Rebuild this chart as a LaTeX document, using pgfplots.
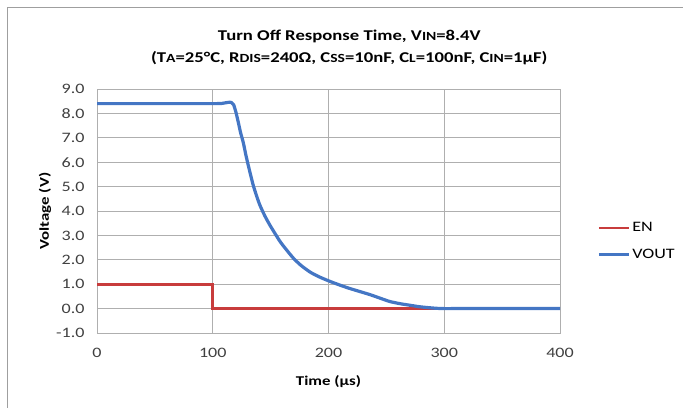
\documentclass[border=0pt]{standalone}
\usepackage{pgfplots}
\pgfplotsset{compat=1.18}
\usepackage{fontspec}
\setmainfont{Carlito}[FakeStretch=1.25]
\definecolor{enred}{RGB}{200,60,60}
\definecolor{voutblue}{RGB}{68,118,196}
\definecolor{gridgray}{RGB}{175,175,175}
\definecolor{ticktext}{RGB}{64,64,64}
\newcommand{\sm}[1]{{\fontsize{12.5}{13}\selectfont #1}}
\begin{document}
\begin{tikzpicture}[x=1bp,y=1bp]
\useasboundingbox (0bp,0bp) rectangle (683bp,408bp);
\draw[gray!75, line width=1.5bp] (7.5bp,0bp) -- (7.5bp,400.5bp) -- (683bp,400.5bp);
\begin{axis}[
  at={(97bp,75bp)}, anchor=south west,
  scale only axis, width=463bp, height=244bp,
  xmin=0, xmax=400, ymin=-1, ymax=9,
  xtick={0,100,...,400}, ytick={-1,0,...,9},
  major tick length=0pt,
  grid=major,
  grid style={gridgray, line width=0.9bp},
  axis line style={gridgray, line width=0.9bp},
  /pgf/number format/assume math mode=true,
  ticklabel style={font=\fontsize{14.5}{16}\selectfont, text=ticktext},
  yticklabel style={/pgf/number format/fixed, /pgf/number format/fixed zerofill, /pgf/number format/precision=1, xshift=-9bp},
  xticklabel style={yshift=-12bp},
  xlabel={\textbf{Time (µs)}},
  ylabel={\textbf{Voltage (V)}},
  label style={font=\fontsize{13.5}{16}\selectfont},
  xlabel style={at={(axis description cs:0.5,-0.2)}, anchor=center},
  ylabel style={at={(axis description cs:-0.112,0.5)}, anchor=center},
  title={\textbf{Turn Off Response Time, V\sm{IN}=8.4V}\\\textbf{(T\sm{A}=25°C, R\sm{DIS}=240Ω, C\sm{SS}=10nF, C\sm{L}=100nF, C\sm{IN}=1µF)}},
  title style={font=\fontsize{15}{22}\selectfont, align=center, at={(axis description cs:0.545,1.0)}, anchor=south, yshift=14.5bp},
  legend style={draw=none, fill=none, at={(axis description cs:1.08,0.375)}, anchor=west,
    font=\fontsize{14.5}{16}\selectfont, row sep=12bp, inner sep=0pt,
    /tikz/every even column/.append style={column sep=0pt}},
  legend cell align=left,
  legend image code/.code={\draw[#1] (0bp,0bp) -- (30bp,0bp);},
  clip=false,
]
\addplot[enred, line width=2.8bp] coordinates {(0,1) (100,1) (100,0) (400,0)};
\addlegendentry{EN}
\addplot[voutblue, line width=3.2bp, line join=round, smooth, tension=0.4] coordinates {
(0,8.40) (50,8.40) (100,8.40) (108,8.41) (113,8.45) (116,8.45) (118,8.36)
(120,8.05) (122,7.65) (124,7.22) (126.4,6.80) (128.5,6.32) (130.7,5.87) (133,5.42) (135,5.05)
(138,4.6) (140.8,4.23) (145,3.8) (149.5,3.41) (158,2.76) (163,2.45) (169.6,2.07) (176,1.78) (184,1.50) (192,1.3)
(201,1.12) (210,0.96) (218,0.83) (227,0.70) (236,0.57) (245,0.42)
(253,0.29) (262,0.20) (270,0.14) (278,0.08) (286,0.04) (294,0.01) (300,0.0) (306,0.0) (320,0.0) (360,0.0) (400,0.0)};
\addlegendentry{VOUT}
\end{axis}
\end{tikzpicture}
\end{document}
